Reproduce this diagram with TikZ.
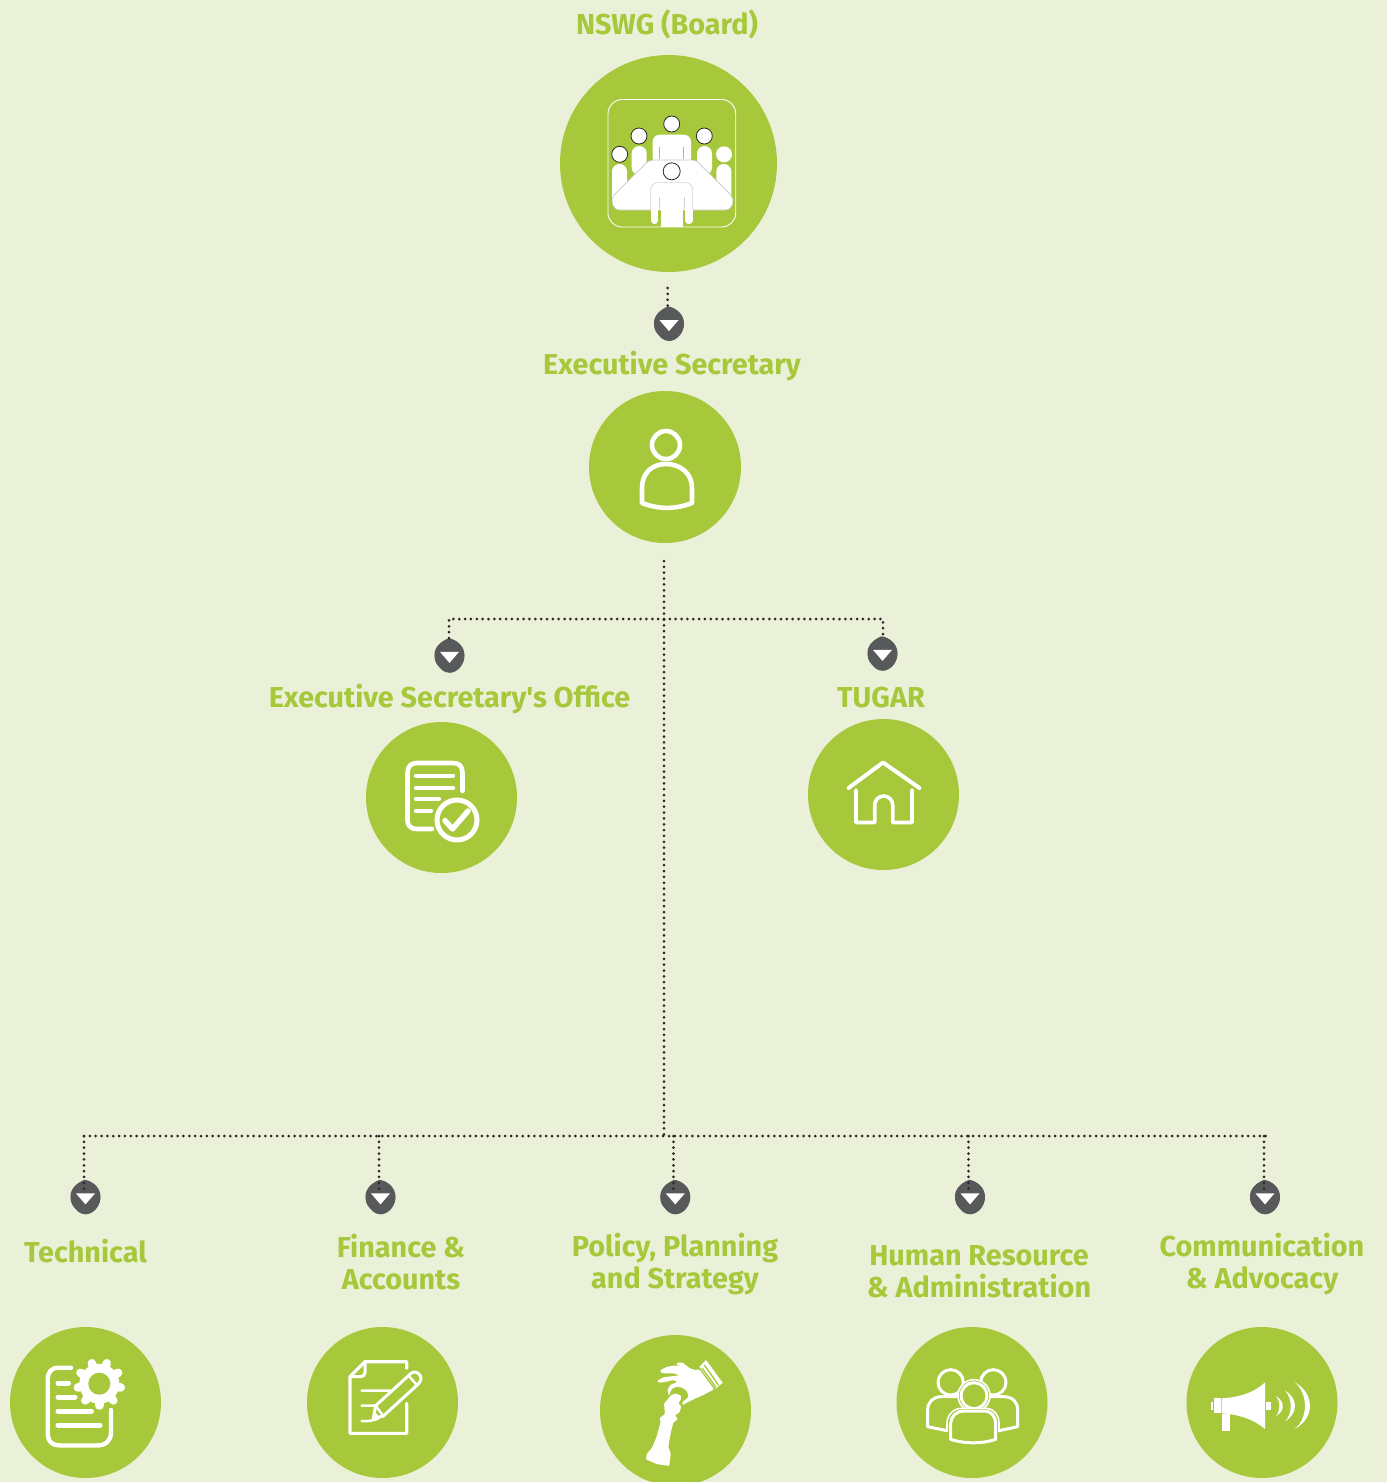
\documentclass[tikz,border=0pt]{standalone}
\usepackage{fontspec}
\newfontfamily\titlef{Fira Sans}
\usetikzlibrary{shapes.geometric}
\definecolor{bgc}{HTML}{EBF1D8}
\definecolor{leaf}{HTML}{A6C83A}
\definecolor{pinc}{HTML}{58595B}
\definecolor{dotc}{HTML}{2A2A2A}
\tikzset{
  disc/.style={circle,fill=leaf,draw=none,inner sep=0pt,minimum size=#1*.75pt},
  title/.style={text=leaf,font=\titlef\fontsize{21.6}{24}\bfseries\selectfont,align=center,inner sep=0pt},
  dots/.style={draw=dotc,line width=3*.75pt,line cap=round,dash pattern=on 0pt off 5.85*.75pt},
  pin/.style={ellipse,fill=pinc,draw=none,inner sep=0pt,minimum width=29.5*.75pt,minimum height=31*.75pt},
  wl/.style={draw=white,line width=#1*.75pt,line cap=round,line join=round},
  wl/.default=4,
  head/.style={fill=white,draw=dotc,line width=.8*.75pt},
  zoomed/.style={shift={#1},x=.25pt,y=-.25pt},
}
\newcommand{\pinmark}[3]{%
  \node[pin] (#1) at (#2,#3) {};
  \begin{scope}[shift={(#2,#3)}]
  \fill[pinc] (-1,-17.2) .. controls (6,-16.5) and (15,-10) .. (15,0) .. controls (15,9) and (8,17.3) .. (0,17.3)
     .. controls (-6,17.3) and (-9,13) .. (-11.5,10) .. controls (-14.5,7) and (-15,3) .. (-15,-1) .. controls (-15,-9) and (-7,-15) .. (-1,-17.2) -- cycle;
  \fill[white] (-9.5,-3.6) -- (9.5,-3.6) -- (0,7.4) -- cycle;
  \end{scope}
}
\begin{document}
\begin{tikzpicture}[x=.75pt,y=-.75pt]
\useasboundingbox (0,0) rectangle (1387,1482);
\fill[bgc] (0,0) rectangle (1387,1482);

% discs
\node[disc=217] (board) at (668.5,163.5) {};
\node[disc=152] (es) at (665,467) {};
\node[disc=151] (eso) at (441.5,797.5) {};
\node[disc=151] (tugar) at (883.5,794.5) {};
\node[disc=151] (tech) at (85.5,1402.5) {};
\node[disc=151] (fin) at (382.5,1402.5) {};
\node[disc=151] (pol) at (675.5,1410.5) {};
\node[disc=151] (hr) at (972,1402.5) {};
\node[disc=151] (com) at (1262,1402.5) {};

% titles
\node[title] (t1) at (667,24) {NSWG (Board)};
\node[title] (t2) at (672,366) {Executive Secretary};
\node[title] (t3) at (449.5,699) {Executive Secretary's Office};
\node[title] (t4) at (881,698) {TUGAR};
\node[title] (t5) at (85.5,1251.5) {Technical};
\node[title] (t6) at (401,1262.5) {Finance \&\\Accounts};
\node[title] (t7) at (675,1264) {Policy, Planning\\and Strategy};
\node[title] (t8) at (979,1272) {Human Resource\\\& Administration};
\node[title] (t9) at (1262,1264.5) {Communication\\\& Advocacy};

% pins
\pinmark{p1}{669}{323.7}
\pinmark{p2}{449.5}{655.5}
\pinmark{p3}{882.5}{653.5}
\pinmark{p4}{85.5}{1197}
\pinmark{p5}{380.5}{1197}
\pinmark{p6}{675.3}{1197}
\pinmark{p7}{970}{1197}
\pinmark{p8}{1265}{1197}

% connector junctions
\coordinate (a0) at (667.7,288);
\coordinate (a1) at (667.7,306);
\coordinate (b0) at (664,561);
\coordinate (b1) at (664,619);
\coordinate (b2) at (664,1136);
\coordinate (c1) at (449,619);
\coordinate (c1e) at (449,638);
\coordinate (c2) at (883,619);
\coordinate (c2e) at (883,636);
\coordinate (d1) at (84,1136);
\coordinate (d2) at (379,1136);
\coordinate (d3) at (673.5,1136);
\coordinate (d4) at (968.5,1136);
\coordinate (d5) at (1264,1136);
\coordinate (d6) at (1268,1136);
\coordinate (e1) at (84,1194);
\coordinate (e2) at (379,1194);
\coordinate (e3) at (673.5,1194);
\coordinate (e4) at (968.5,1194);
\coordinate (e5) at (1264,1194);

\draw[dots] (a0) -- (a1);
\draw[dots] (b0) -- (b2);
\draw[dots] (b1) -- (c1) -- (c1e);
\draw[dots] (b1) -- (c2) -- (c2e);
\draw[dots] (d1) -- (d6);
\draw[dots] (d1) -- (e1);
\draw[dots] (d2) -- (e2);
\draw[dots] (d3) -- (e3);
\draw[dots] (d4) -- (e4);
\draw[dots] (d5) -- (e5);

% ---- board icon
\draw[white,line width=.9*.75pt,rounded corners=14*.75pt] (608,99.5) rectangle (735.7,227);
\fill[white,rounded corners=7.4*.75pt] (631.7,175) -- (631.7,146) -- (646.7,146) -- (646.7,175) -- cycle;
\fill[white,rounded corners=7.4*.75pt] (697,175) -- (697,146) -- (712,146) -- (712,175) -- cycle;
\fill[white,rounded corners=7.4*.75pt] (612,205) -- (612,164) -- (627,164) -- (627,205) -- cycle;
\fill[white,rounded corners=7.4*.75pt] (716.3,205) -- (716.3,164) -- (731.3,164) -- (731.3,205) -- cycle;
\fill[white,rounded corners=7*.75pt] (652.7,165) -- (652.7,134.7) -- (691,134.7) -- (691,165) -- cycle;
\fill[leaf] (658.8,146.5) rectangle (660.4,158.5);
\fill[leaf] (682.7,146.5) rectangle (684.3,158.5);
\node[circle,head,inner sep=0pt,minimum size=16*.75pt] (h1) at (671.7,124) {};
\node[circle,head,inner sep=0pt,minimum size=16*.75pt] (h2) at (639,136) {};
\node[circle,head,inner sep=0pt,minimum size=16*.75pt] (h3) at (704.3,136) {};
\node[circle,head,inner sep=0pt,minimum size=16*.75pt] (h4) at (619.7,154.3) {};
\node[circle,fill=white,inner sep=0pt,minimum size=16*.75pt] (h5) at (724,154.3) {};
\begin{scope}[zoomed={(605,140)}]
 % table
 \draw[fill=white,draw=black!22,line width=.7*.75pt] (145,60) -- (262,60) .. controls (270,60) and (275,63) .. (280,68) -- (378,165)
   .. controls (390,180) and (385,210) .. (360,210) -- (45,210) .. controls (20,210) and (15,180) .. (27,165) -- (125,68)
   .. controls (130,63) and (137,60) .. (145,60) -- cycle;
 % front person
 \draw[wl=7.6] (148.5,205) -- (148.5,241);
 \draw[wl=7.6] (251.5,205) -- (251.5,241);
 \fill[white] (167,205) rectangle (233,260);
 \draw[fill=white,draw=black!18,line width=.6*.75pt] (137,208) -- (137,150) .. controls (137,135) and (147,128) .. (160,128)
   -- (240,128) .. controls (253,128) and (263,135) .. (263,150) -- (263,208);
 \draw[black!18,line width=.7*.75pt] (163,170) -- (163,209) (237,170) -- (237,209);
 \draw[white,line width=1*.75pt] (139,209) -- (261,209);
\end{scope}
\node[circle,head,inner sep=0pt,minimum size=17*.75pt] (h6) at (671.7,171.3) {};

% ---- person icon
\draw[wl=4.6] (666,445) circle[radius=14];
\draw[wl=4.6] (642,503) -- (642,488) .. controls (642,473) and (652,464) .. (666,464)
  .. controls (680,464) and (692,473) .. (692,488) -- (692,503)
  .. controls (675,509.5) and (659,509.5) .. (642,503) -- cycle;

% ---- office icon
\draw[wl=4.6] (432,829) -- (417,829) .. controls (410,829) and (407.5,825) .. (407.5,820) -- (407.5,773)
  .. controls (407.5,766) and (411,763) .. (417,763) -- (453,763)
  .. controls (459,763) and (462.5,766) .. (462.5,773) -- (462.5,791);
\draw[wl=4.4] (416,775.7) -- (453,775.7) (416,787.7) -- (453,787.7) (416,799) -- (439,799) (416,810.7) -- (431,810.7);
\draw[wl=5] (457,820) circle[radius=20];
\draw[wl=5.4] (445,820.5) -- (452.5,829) -- (468,811);

% ---- house icon
\draw[wl=4] (848.5,788) -- (883,762.5) -- (919.5,788);
\draw[wl=3.6] (856,790) -- (856,822.5) -- (874.7,822.5) -- (874.7,805) arc[start angle=180,end angle=360,radius=9] -- (892.7,822.5) -- (912,822.5) -- (912,790);

% ---- technical icon
\draw[wl=4.4] (71,1367.7) -- (59,1367.7) .. controls (51,1367.7) and (47.7,1372) .. (47.7,1380) -- (47.7,1432)
  .. controls (47.7,1442) and (52,1445.5) .. (62,1445.5) -- (96,1445.5)
  .. controls (106,1445.5) and (111,1441) .. (111,1432) -- (111,1410);
\draw[wl=5] (58,1383) -- (68.5,1383) (58,1397) -- (75,1397) (58,1411) -- (91.5,1411) (58,1425) -- (100,1425);
\fill[white] (99.3,1383.7) circle[radius=20];
\foreach \a in {10,50,...,330} \draw[wl=8.5] (99.3,1383.7) -- ++(\a:21.8);
\fill[leaf] (99.3,1383.7) circle[radius=11];

% ---- finance icon
\begin{scope}[zoomed={(340,1355)}]
 \draw[wl=3.2] (200,40) -- (200,20) -- (75,20) -- (30,65) -- (30,235) -- (200,235) -- (200,145);
 \draw[wl=3] (75,20) -- (75,52) .. controls (75,60) and (70,65) .. (62,65) -- (30,65);
 \draw[wl=2.6] (65,107) -- (150,107) (65,152) -- (105,152) (65,198) .. controls (85,200) and (100,196) .. (115,190);
 \draw[wl=3,fill=leaf] (100,190) -- (107,152) -- (213,55) .. controls (222,47) and (235,52) .. (241,62) .. controls (245,72) and (242,80) .. (236,86) -- (130,183) -- cycle;
 \draw[wl=2.4] (206,62) -- (231,91) (107,152) -- (130,183);
 \fill[white] (98,192) -- (103,168) -- (118,186) -- cycle;
\end{scope}

% ---- chess icon
\begin{scope}[zoomed={(640,1350)}]
 \fill[white] (198,30) -- (248,98) -- (227,116) -- (178,50) -- cycle;
 \draw[leaf,line width=1.3*.75pt] (193,45) -- (236,106) (186,54) -- (228,112);
 \fill[white,rounded corners=1*.75pt] (178,58) -- (222,118) -- (190,135) -- (165,146) -- (140,158) -- (128,166) -- (127,156) -- (145,142) -- (142,125) -- (128,113) -- (108,110) -- (94,118) -- (87,138) -- (82,120) -- (92,104) -- (112,96) -- (100,90) -- (75,96) -- (55,98) -- (52,92) -- (70,82) -- (100,78) -- (118,76) -- (100,70) -- (72,70) -- (60,66) -- (62,60) -- (82,50) -- (108,46) -- (125,50) -- (108,42) -- (112,38) -- (128,38) -- (148,54) -- (165,60) -- cycle;
 \fill[white,rounded corners=1*.75pt] (90,138) -- (105,130) -- (124,137) -- (122,150) -- (115,160) -- (124,170) -- (118,188) -- (105,195) -- (114,208) -- (100,217) -- (92,250) -- (85,290) -- (92,310) -- (88,348) -- (50,342) -- (18,328) -- (20,312) -- (35,295) -- (50,260) -- (62,215) -- (58,205) -- (75,192) -- (72,160) -- (82,150) -- cycle;
\end{scope}

% ---- people icon
\begin{scope}[zoomed={(925,1360)}]
 \draw[wl=3] (77,67) circle[radius=38];
 \draw[wl=3] (205,67) circle[radius=38];
 \draw[wl=3] (65,212) -- (8,200) -- (8,150) .. controls (8,125) and (25,110) .. (50,110) -- (95,110);
 \draw[wl=3] (222,212) -- (278,200) -- (278,150) .. controls (278,125) and (262,110) .. (235,110) -- (195,110);
 \draw[wl=1.6,fill=leaf] (147,107) circle[radius=48];
 \draw[wl=3] (147,107) circle[radius=39];
 \draw[wl=1.6,fill=leaf] (66,214) -- (66,190) .. controls (66,165) and (85,145) .. (110,145) -- (185,145) .. controls (205,145) and (222,165) .. (222,190) -- (222,214);
 \draw[wl=3] (77,238) -- (77,190) .. controls (77,170) and (95,153) .. (115,153) -- (180,153) .. controls (198,153) and (212,170) .. (212,190) -- (212,238)
   .. controls (170,252) and (120,252) .. (77,238) -- cycle;
\end{scope}

% ---- megaphone icon
\begin{scope}[zoomed={(1170,1320)}]
 \fill[white] (155,235) .. controls (205,232) and (250,220) .. (285,187) -- (285,327) .. controls (250,297) and (205,283) .. (155,280) -- cycle;
 \fill[white] (132,235) rectangle (153,280);
 \fill[white] (123,245) rectangle (130,270);
 \fill[white] (157,282) rectangle (180,332);
 \fill[white] (288,245) rectangle (304,270);
 \fill[white] (318,228) .. controls (345,245) and (345,272) .. (318,288) .. controls (332,270) and (332,245) .. (318,228) -- cycle;
 \fill[white] (345,212) .. controls (385,235) and (385,280) .. (345,304) .. controls (368,282) and (368,235) .. (345,212) -- cycle;
 \fill[white] (374,187) .. controls (435,220) and (435,295) .. (374,327) .. controls (415,295) and (415,220) .. (374,187) -- cycle;
\end{scope}
\end{tikzpicture}
\end{document}
